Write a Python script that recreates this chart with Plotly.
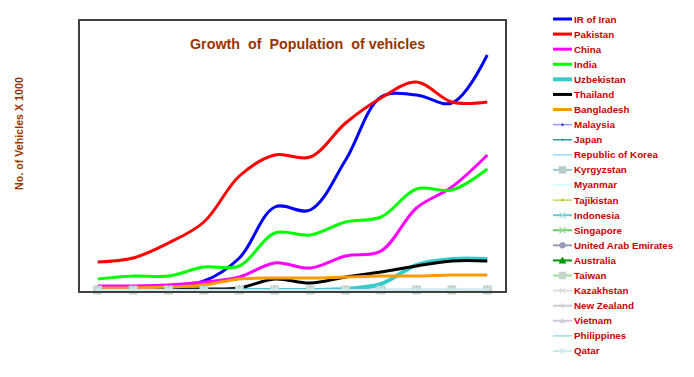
import plotly.graph_objects as go

# ---------------- data ----------------
periods = list(range(1, 13))

iran        = [40, 80, 160, 360, 1280, 3320, 3200, 5200, 7720, 7800, 7480, 9400]
pakistan    = [1120, 1280, 1880, 2720, 4560, 5400, 5320, 6680, 7680, 8320, 7520, 7520]
china       = [160, 160, 200, 320, 520, 1080, 880, 1360, 1560, 3280, 4120, 5400]
india       = [440, 560, 560, 920, 960, 2280, 2200, 2720, 2920, 4040, 4000, 4840]
uzbekistan  = [0, 0, 0, 0, 0, 0, 0, 40, 240, 1000, 1240, 1240]
thailand    = [40, 40, 40, 40, 80, 440, 280, 520, 720, 960, 1160, 1160]
bangladesh  = [80, 80, 120, 200, 440, 480, 480, 520, 560, 560, 600, 600]
malaysia    = [20, 20, 20, 20, 20, 20, 20, 20, 20, 20, 20, 20]
japan       = [10, 10, 10, 10, 10, 10, 10, 10, 10, 10, 10, 10]
korea       = [5, 5, 5, 5, 5, 5, 5, 5, 5, 5, 5, 5]
kyrgyzstan  = [0, 0, 0, 0, 0, 0, 0, 0, 0, 0, 0, 0]
myanmar     = [0, 0, 0, 0, 0, 0, 0, 0, 0, 0, 0, 0]
tajikistan  = [0, 0, 0, 0, 0, 0, 0, 0, 0, 0, 0, 0]
indonesia   = [0, 0, 0, 0, 0, 0, 0, 0, 0, 0, 0, 0]
singapore   = [0, 0, 0, 0, 0, 0, 0, 0, 0, 0, 0, 0]
uae         = [0, 0, 0, 0, 0, 0, 0, 0, 0, 0, 0, 0]
australia   = [0, 0, 0, 0, 0, 0, 0, 0, 0, 0, 0, 0]
taiwan      = [0, 0, 0, 0, 0, 0, 0, 0, 0, 0, 0, 0]
kazakhstan  = [0, 0, 0, 0, 0, 0, 0, 0, 0, 0, 0, 0]
new_zealand = [0, 0, 0, 0, 0, 0, 0, 0, 0, 0, 0, 0]
vietnam     = [0, 0, 0, 0, 0, 0, 0, 0, 0, 0, 0, 0]
philippines = [0, 0, 0, 0, 0, 0, 0, 0, 0, 0, 0, 0]
qatar       = [0, 0, 0, 0, 0, 0, 0, 0, 0, 0, 0, 0]

names = ["IR of Iran", "Pakistan", "China", "India", "Uzbekistan", "Thailand",
         "Bangladesh", "Malaysia", "Japan", "Republic of Korea", "Kyrgyzstan",
         "Myanmar", "Tajikistan", "Indonesia", "Singapore", "United Arab Emirates",
         "Australia", "Taiwan", "Kazakhstan", "New Zealand", "Vietnam",
         "Philippines", "Qatar"]
series = [iran, pakistan, china, india, uzbekistan, thailand, bangladesh,
          malaysia, japan, korea, kyrgyzstan, myanmar, tajikistan, indonesia,
          singapore, uae, australia, taiwan, kazakhstan, new_zealand, vietnam,
          philippines, qatar]

# style: (line colour, width, marker symbol or None, marker colour, marker size)
styles = [
    ("#0000ff", 3, None, None, 0),
    ("#ff0000", 3, None, None, 0),
    ("#ff00ff", 3, None, None, 0),
    ("#00ff00", 3, None, None, 0),
    ("#33cccc", 4, None, None, 0),
    ("#000000", 3, None, None, 0),
    ("#ff9900", 3, None, None, 0),
    ("#9999ff", 1.5, "circle", "#3333cc", 2),
    ("#339999", 1.5, "circle", "#339999", 2),
    ("#99ddff", 1.5, "line-ew", "#3399ff", 4),
    ("#99cccc", 2, "square", "#b8cccc", 7),
    ("#ccffff", 1.5, "circle", "#ccffff", 2),
    ("#99cc00", 1, "circle", "#99cc00", 2),
    ("#66cccc", 2, "x-thin", "#99dddd", 6),
    ("#66cc66", 2, "x-thin", "#99dd99", 6),
    ("#9999bb", 2, "circle", "#9999bb", 6),
    ("#009900", 2, "triangle-up", "#009900", 7),
    ("#99dd99", 2, "square", "#c4d6cc", 7),
    ("#dddddd", 2, "x-thin", "#dddddd", 5),
    ("#cccccc", 2, "cross-thin", "#cccccc", 5),
    ("#ccccdd", 2, "triangle-up", "#ccccdd", 5),
    ("#99dddd", 1.5, None, None, 0),
    ("#ccecec", 2, "x-thin", "#ccecec", 5),
]

fig = go.Figure()
for name, vals, st in zip(names, series, styles):
    col, w, sym, mcol, msz = st
    mode = "lines+markers" if sym else "lines"
    kw = {}
    if sym:
        kw["marker"] = dict(symbol=sym, color=mcol, size=msz,
                            line=dict(color=mcol, width=1.5))
    fig.add_trace(go.Scatter(x=periods, y=vals, name=name, mode=mode,
                             line=dict(color=col, width=w, shape="spline", smoothing=1.0),
                             cliponaxis=False, showlegend=False, **kw))

# ---------------- manual legend (layout decoration) ----------------
L, R, T, B = 80, 505, 21, 291
PW, PH = R - L, B - T


def px(xp):
    return (xp - L) / PW


def py(yp):
    return (B - yp) / PH


shapes = []
annotations = []
for i, (name, st) in enumerate(zip(names, styles)):
    col, w, sym, mcol, msz = st
    yc = 19 + i * 15.09
    shapes.append(dict(type="line", xref="paper", yref="paper",
                       x0=px(553), x1=px(572), y0=py(yc), y1=py(yc),
                       line=dict(color=col, width=w)))
    if sym:
        s = max(msz, 2) / 2
        if sym in ("square", "circle"):
            shapes.append(dict(type="rect" if sym == "square" else "circle",
                               xref="paper", yref="paper",
                               xsizemode="pixel", ysizemode="pixel",
                               xanchor=px(562.5), yanchor=py(yc),
                               x0=-s, x1=s, y0=-s, y1=s,
                               fillcolor=mcol, line=dict(color=mcol, width=0.5)))
        elif sym == "triangle-up":
            shapes.append(dict(type="path", xref="paper", yref="paper",
                               xsizemode="pixel", ysizemode="pixel",
                               xanchor=px(562.5), yanchor=py(yc),
                               path=f"M{-s},{-s*0.8} L{s},{-s*0.8} L0,{s} Z",
                               fillcolor=mcol, line=dict(color=mcol, width=0.5)))
        elif sym in ("x-thin", "cross-thin"):
            p = (f"M{-s},{-s} L{s},{s} M{-s},{s} L{s},{-s}" if sym == "x-thin"
                 else f"M{-s},0 L{s},0 M0,{-s} L0,{s}")
            shapes.append(dict(type="path", xref="paper", yref="paper",
                               xsizemode="pixel", ysizemode="pixel",
                               xanchor=px(562.5), yanchor=py(yc),
                               path=p, line=dict(color=mcol, width=1.2)))
    annotations.append(dict(text=f"<b>{name}</b>", xref="paper", yref="paper",
                            x=px(571.5), y=py(yc), xanchor="left", yanchor="middle",
                            showarrow=False,
                            font=dict(family="Liberation Sans, Arial", size=9.8, color="#cc0000")))

annotations.append(dict(text="<b>Growth  of  Population  of vehicles</b>",
                        xref="paper", yref="paper", x=px(307.5), y=py(44),
                        xanchor="center", yanchor="middle", showarrow=False,
                        font=dict(family="Liberation Sans, Arial", size=14.3, color="#993300")))
annotations.append(dict(text="<b>No. of Vehicles X 1000</b>",
                        xref="paper", yref="paper", x=px(19), y=py(134),
                        xanchor="center", yanchor="middle", textangle=-90, showarrow=False,
                        font=dict(family="Liberation Sans, Arial", size=10.7, color="#993300")))

fig.update_layout(
    width=694, height=377,
    margin=dict(l=L, r=694 - R, t=T, b=377 - B, pad=0),
    paper_bgcolor="white", plot_bgcolor="white",
    showlegend=False,
    shapes=shapes, annotations=annotations,
    xaxis=dict(range=[0.5, 12.5], showticklabels=False, ticks="", showgrid=False,
               zeroline=False, showline=True, mirror=True, linecolor="#404040", linewidth=1.5),
    yaxis=dict(range=[-40, 10760], showticklabels=False, ticks="", showgrid=False,
               zeroline=False, showline=True, mirror=True, linecolor="#404040", linewidth=1.5),
)

fig.write_html("out.html", config={"displayModeBar": False},
               post_script="document.body.style.margin='0px';")
